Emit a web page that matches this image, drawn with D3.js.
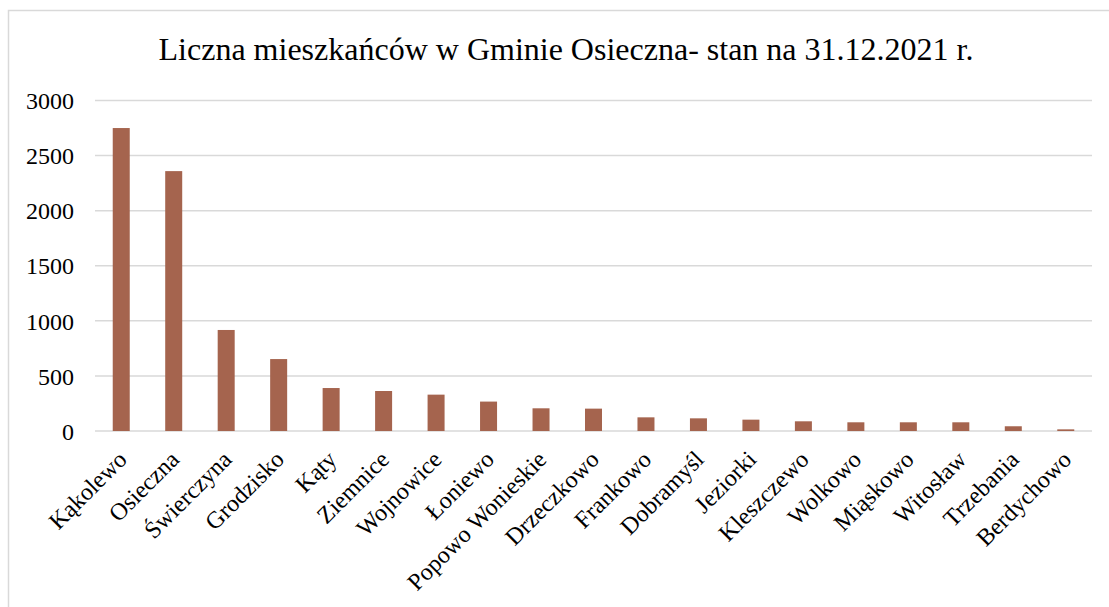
<!DOCTYPE html>
<html>
<head>
<meta charset="utf-8">
<script src="https://cdn.jsdelivr.net/npm/d3@7"></script>
<style>
  html, body { margin: 0; padding: 0; background: #fff; }
  svg { display: block; }
  text { font-family: "Liberation Serif", "Times New Roman", serif; fill: #000; }
</style>
</head>
<body>
<svg id="chart" width="1109" height="607"></svg>
<script>
const title = "Liczna mieszkańców w Gminie Osieczna- stan na 31.12.2021 r.";
const categories = ["Kąkolewo","Osieczna","Świerczyna","Grodzisko","Kąty","Ziemnice","Wojnowice","Łoniewo","Popowo Wonieskie","Drzeczkowo","Frankowo","Dobramyśl","Jeziorki","Kleszczewo","Wolkowo","Miąskowo","Witosław","Trzebania","Berdychowo"];
const values = [2750, 2359, 917, 653, 390, 363, 330, 267, 206, 203, 124, 115, 103, 88, 79, 79, 79, 43, 15];
const yTicks = [0, 500, 1000, 1500, 2000, 2500, 3000];

const svg = d3.select("#chart");
const W = 1109, H = 607;
const m = { left: 95, right: 1092, top: 100.5, bottom: 431 };

// chart frame
svg.append("path")
  .attr("d", `M8.5,${H} L8.5,10.5 L${W},10.5`)
  .attr("fill", "none").attr("stroke", "#d9d9d9").attr("stroke-width", 1.5);

const x = d3.scaleBand().domain(categories).range([m.left, m.right]).paddingInner(0.676).paddingOuter(0.338);
const y = d3.scaleLinear().domain([0, 3000]).range([m.bottom, m.top]);

// gridlines
svg.append("g").selectAll("line").data(yTicks).join("line")
  .attr("x1", m.left).attr("x2", m.right)
  .attr("y1", d => y(d)).attr("y2", d => y(d))
  .attr("stroke", "#d9d9d9").attr("stroke-width", 1.5);

// bars
svg.append("g").selectAll("rect").data(values).join("rect")
  .attr("x", (d, i) => x(categories[i]))
  .attr("width", x.bandwidth())
  .attr("y", d => y(d))
  .attr("height", d => y(0) - y(d))
  .attr("fill", "#a5644e");

// y axis labels
const yAxis = d3.axisLeft(y).tickValues(yTicks).tickSize(0).tickPadding(21).tickFormat(d3.format("d"));
const gy = svg.append("g").attr("transform", `translate(${m.left},0)`).call(yAxis);
gy.attr("font-family", null).attr("font-size", null);
gy.select(".domain").remove();
gy.selectAll("text").style("font-size", "24px").style("font-family", "'Liberation Serif', serif").attr("dy", "0.34em");

// x axis labels
const xAxis = d3.axisBottom(x).tickSize(0).tickPadding(0);
const gx = svg.append("g").attr("transform", `translate(0,${m.bottom})`).call(xAxis);
gx.attr("font-family", null).attr("font-size", null);
gx.select(".domain").remove();
gx.selectAll("text")
  .style("font-size", "24px").style("font-family", "'Liberation Serif', serif")
  .attr("text-anchor", "end")
  .attr("dy", null).attr("y", 0)
  .attr("transform", "translate(3,26) rotate(-45)")
  .attr("dominant-baseline", "middle");

// title
svg.append("text")
  .attr("x", 566).attr("y", 60)
  .attr("text-anchor", "middle")
  .style("font-size", "32px")
  .text(title);
</script>
</body>
</html>
